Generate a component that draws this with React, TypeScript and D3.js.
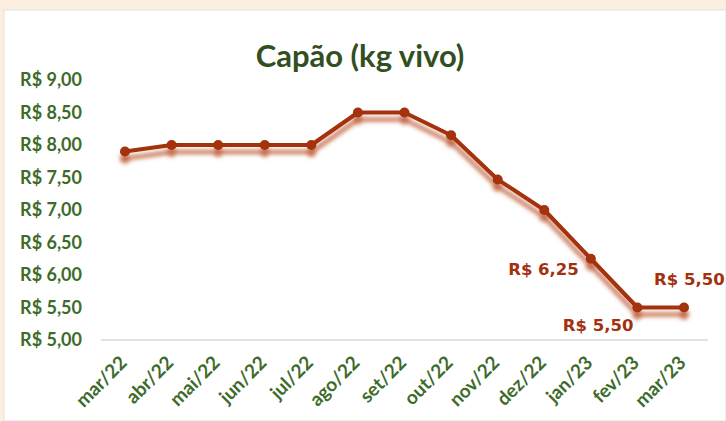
import { useEffect, useRef } from "react";
import * as d3 from "d3";

const months = ["mar/22", "abr/22", "mai/22", "jun/22", "jul/22", "ago/22", "set/22", "out/22", "nov/22", "dez/22", "jan/23", "fev/23", "mar/23"];
const prices = [7.9, 8.0, 8.0, 8.0, 8.0, 8.5, 8.5, 8.15, 7.47, 7.0, 6.25, 5.5, 5.5];
const yTicks = [5, 5.5, 6, 6.5, 7, 7.5, 8, 8.5, 9];
// which points carry a value label, and where it sits
const labelled = [
  { i: 10, pos: "left" },
  { i: 11, pos: "below" },
  { i: 12, pos: "above" },
];

const W = 726;
const H = 421;
const lineColor = "#A3300E";
const green = "#3D6B2A";

const fmt = (v: number) => "R$ " + v.toFixed(2).replace(".", ",");

export default function App() {
  const ref = useRef<SVGSVGElement>(null);

  useEffect(() => {
    if (!ref.current) return;
    const svg = d3.select(ref.current);
    svg.selectAll("*").remove();

    // drop shadow under the line
    const defs = svg.append("defs");
    const f = defs.append("filter").attr("id", "shadow").attr("x", "-10%").attr("y", "-20%").attr("width", "120%").attr("height", "160%");
    f.append("feDropShadow")
      .attr("dx", 0)
      .attr("dy", 7)
      .attr("stdDeviation", 2.2)
      .attr("flood-color", "#B23E18")
      .attr("flood-opacity", 0.75);

    // page background and chart card
    svg.append("rect").attr("width", W).attr("height", H).attr("fill", "#FDEFDF");
    svg.append("rect").attr("x", 4).attr("y", 10).attr("width", W - 4).attr("height", H - 10).attr("fill", "#fff").attr("stroke", "#E2E2E2").attr("stroke-width", 1);

    const x = d3.scalePoint<string>().domain(months).range([125, 684]);
    const y = d3.scaleLinear().domain([5, 9]).range([340, 80]);

    // title
    svg.append("text")
      .attr("x", 360)
      .attr("y", 67)
      .attr("text-anchor", "middle")
      .attr("font-family", "Lato, 'Open Sans', sans-serif")
      .attr("font-weight", 700)
      .attr("font-size", 31)
      .attr("fill", "#32501F")
      .text("Capão (kg vivo)");

    // y axis labels
    const yAxis = svg.append("g");
    yAxis.selectAll("text")
      .data(yTicks)
      .enter()
      .append("text")
      .attr("x", 82)
      .attr("y", (d) => y(d))
      .attr("dy", "0.35em")
      .attr("text-anchor", "end")
      .attr("font-family", "Lato, sans-serif")
      .attr("font-weight", 700)
      .attr("font-size", 18)
      .attr("fill", green)
      .text((d) => fmt(d));

    // baseline
    svg.append("line")
      .attr("x1", 101)
      .attr("x2", 708)
      .attr("y1", y(5))
      .attr("y2", y(5))
      .attr("stroke", "#D9D9D9")
      .attr("stroke-width", 1.5);

    // x axis labels, rotated
    svg.append("g")
      .selectAll("text")
      .data(months)
      .enter()
      .append("text")
      .attr("transform", (d) => `translate(${x(d)! + 3},${364}) rotate(-45)`)
      .attr("text-anchor", "end")
      .attr("font-family", "Lato, sans-serif")
      .attr("font-weight", 700)
      .attr("font-size", 19)
      .attr("fill", green)
      .text((d) => d);

    // line + markers with shadow
    const series = svg.append("g").attr("filter", "url(#shadow)");
    const line = d3.line<number>()
      .x((_, i) => x(months[i])!)
      .y((d) => y(d));
    series.append("path")
      .datum(prices)
      .attr("d", line)
      .attr("fill", "none")
      .attr("stroke", lineColor)
      .attr("stroke-width", 4)
      .attr("stroke-linejoin", "round");
    series.selectAll("circle")
      .data(prices)
      .enter()
      .append("circle")
      .attr("cx", (_, i) => x(months[i])!)
      .attr("cy", (d) => y(d))
      .attr("r", 5)
      .attr("fill", lineColor);

    // value labels
    svg.append("g")
      .selectAll("text")
      .data(labelled)
      .enter()
      .append("text")
      .attr("x", (d) => {
        const px = x(months[d.i])!;
        if (d.pos === "left") return px - 12;
        if (d.pos === "below") return px - 4;
        return px - 30;
      })
      .attr("y", (d) => {
        const py = y(prices[d.i]);
        if (d.pos === "left") return py + 16;
        if (d.pos === "below") return py + 23;
        return py - 23;
      })
      .attr("text-anchor", (d) => (d.pos === "above" ? "start" : "end"))
      .attr("font-family", "'DejaVu Sans', sans-serif")
      .attr("font-weight", 700)
      .attr("font-size", 16.5)
      .attr("fill", "#A3300E")
      .text((d) => fmt(prices[d.i]));
  }, []);

  return (
    <svg
      ref={ref}
      width={W}
      height={H}
      style={{ position: "absolute", left: 0, top: 0, display: "block" }}
    />
  );
}
